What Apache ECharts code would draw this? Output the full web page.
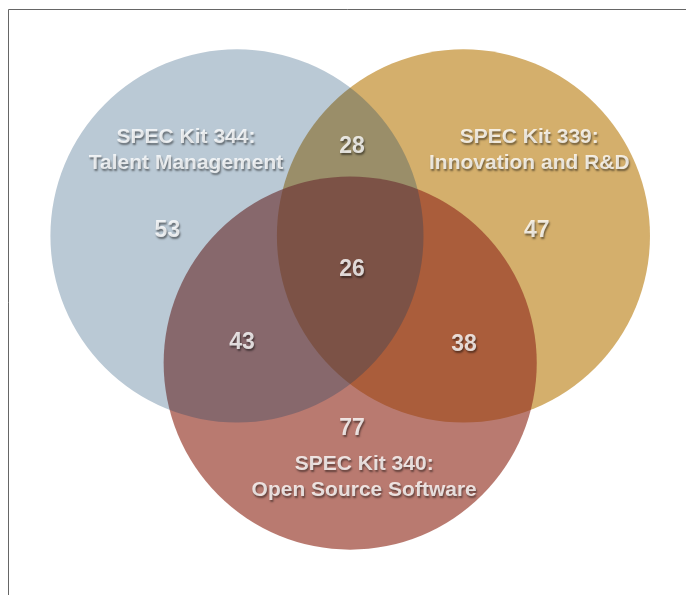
<!DOCTYPE html>
<html>
<head>
<meta charset="utf-8">
<script src="https://cdn.jsdelivr.net/npm/echarts@6/dist/echarts.min.js"></script>
<style>
html,body{margin:0;padding:0;background:#fff;}
#chart{width:686px;height:595px;}
</style>
</head>
<body>
<div id="chart"></div>
<script>
// Sets (circle centres in radius units, radius = 1)
const setNames = ['SPEC Kit 339', 'SPEC Kit 340', 'SPEC Kit 344'];
const setCenters = [[0.607, 0.34], [0, -0.34], [-0.607, 0.34]];
const setRadius = [1, 1, 1];
const setColors = ['rgb(212,175,108)', 'rgba(145,47,31,0.64)', 'rgba(0,55,100,0.27)'];

// Region counts and their label positions
const regionValues = [28, 53, 47, 26, 43, 38, 77];
const regionPositions = [[0.01, 0.82], [-0.98, 0.37], [1.0, 0.37], [0.01, 0.16], [-0.58, -0.23], [0.61, -0.24], [0.01, -0.69]];

// Set titles
const titleTexts = ['SPEC Kit 344:\nTalent Management', 'SPEC Kit 339:\nInnovation and R&D', 'SPEC Kit 340:\nOpen Source Software'];
const titlePositions = [[-0.88, 0.80], [0.96, 0.80], [0.075, -0.95]];

const textStyle = {
  color: '#ffffff',
  fontFamily: '"Liberation Sans", Arial, Helvetica, sans-serif',
  fontWeight: 'bold',
  textBorderWidth: 0,
  textBorderColor: 'transparent',
  textShadowColor: 'rgba(0,0,0,0.6)',
  textShadowBlur: 2,
  textShadowOffsetX: 1,
  textShadowOffsetY: 2
};

const chart = echarts.init(document.getElementById('chart'));
chart.setOption({
  animation: false,
  backgroundColor: '#fff',
  graphic: [{
    type: 'rect',
    shape: {x: 8.5, y: 9.5, width: 700, height: 620},
    style: {fill: 'none', stroke: '#666', lineWidth: 1},
    z: 10
  }],
  grid: {left: 14.4, width: 673.2, top: 19, height: 561},
  xAxis: {type: 'value', min: -1.8, max: 1.8, show: false},
  yAxis: {type: 'value', min: -1.5, max: 1.5, show: false},
  series: [
    {
      type: 'custom',
      data: setCenters.map((c, i) => ({name: setNames[i], value: [c[0], c[1], setRadius[i]]})),
      renderItem: function (params, api) {
        const p = api.coord([api.value(0), api.value(1)]);
        const r = api.size([api.value(2), 0])[0];
        return {
          type: 'circle',
          shape: {cx: p[0], cy: p[1], r: r},
          style: {fill: setColors[params.dataIndex], stroke: null}
        };
      },
      silent: true,
      z: 1
    },
    {
      type: 'scatter',
      symbolSize: 0,
      data: regionValues.map((v, i) => ({name: String(v), value: regionPositions[i]})),
      label: Object.assign({show: true, position: 'inside', formatter: '{b}', fontSize: 23}, textStyle),
      silent: true,
      z: 5
    },
    {
      type: 'scatter',
      symbolSize: 0,
      data: titleTexts.map((t, i) => ({name: t, value: titlePositions[i]})),
      label: Object.assign({show: true, position: 'inside', formatter: '{b}', fontSize: 21, lineHeight: 26, align: 'center'}, textStyle),
      silent: true,
      z: 5
    }
  ]
});
</script>
</body>
</html>
